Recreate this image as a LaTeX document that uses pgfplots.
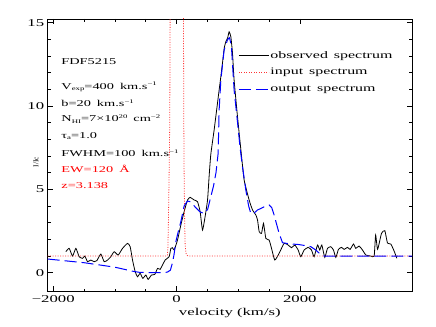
\documentclass[border=0pt]{standalone}
\usepackage{fontspec}
\setmainfont{Liberation Serif}
\newfontfamily\hf{Liberation Serif}[FakeStretch=1.6]
\usepackage{pgfplots}
\pgfplotsset{compat=1.18}

\newcommand{\txt}{\hf\fontsize{9}{10}\selectfont}
\newcommand{\legfont}{\hf\fontsize{10}{11}\selectfont}
\newcommand{\lo}[1]{\raisebox{-1.5bp}{\hf\fontsize{5.5}{6}\selectfont #1}}
\newcommand{\hi}[1]{\raisebox{3.5bp}{\hf\fontsize{5.5}{6}\selectfont #1}}

\begin{document}
\begin{tikzpicture}
\path[use as bounding box] (-47.7bp,-35.3bp) rectangle (388.3bp,291.7bp);
\begin{axis}[
    at={(0,0)}, anchor=south west,
    scale only axis,
    width=364.3bp, height=272.7bp,
    xmin=-2090, xmax=3820,
    ymin=-1.14, ymax=15.22,
    clip mode=individual,
    xtick={-2000,0,2000}, xticklabels={−2000,0,2000},
    ytick={0,5,10,15}, yticklabels={0,5,10,15},
    minor x tick num=3, minor y tick num=4,
    tick align=inside,
    major tick length=5.5bp, minor tick length=3bp,
    every tick/.style={black, line width=0.6bp},
    axis line style={line width=0.8bp},
    tick label style={font=\hf\fontsize{10.5}{11}\selectfont},
    xlabel={velocity (km/s)},
    xlabel style={font=\hf\fontsize{10.5}{11}\selectfont, at={(axis description cs:0.5,0)}, anchor=center, yshift=-21.3bp},
    legend style={draw=none, fill=none, at={(0.523,0.897)}, anchor=north west,
        font=\legfont, row sep=0pt, inner sep=0pt,
        nodes={inner sep=1bp, minimum height=16.7bp}},
    legend cell align=left,
    legend image code/.code={\draw[#1] (0bp,0bp) -- (30bp,0bp);},
]
% observed spectrum
\addplot[black, line width=0.8bp, smooth, tension=0.3] coordinates {
(-1796,1.26) (-1742,1.46) (-1687,1.0) (-1633,1.46) (-1580,0.96) (-1525,0.86)
(-1487,1.0) (-1444,0.66) (-1390,0.76) (-1336,0.66) (-1293,0.72) (-1228,1.12)
(-1174,0.66) (-1119,0.76) (-1066,0.96) (-1012,1.26) (-947,1.06) (-876,1.46)
(-795,1.76) (-752,1.56) (-714,0.76) (-671,0.06) (-633,-0.24) (-590,-0.04)
(-547,-0.34) (-498,-0.14) (-461,-0.40) (-406,-0.14) (-352,-0.10) (-308,0.26)
(-266,0.20) (-227,0.46) (-185,0.76) (-120,0.96) (-92,1.46) (-65,1.5) (-39,1.36)
(16,1.96) (70,2.86) (123,3.66) (178,4.36) (221,4.52) (286,4.36) (340,4.26)
(383,3.66) (421,2.56) (459,3.26) (503,4.36) (529,5.8) (556,7.1) (610,8.56)
(637,9.36) (691,10.96) (719,11.76) (746,12.6) (775,13.5) (800,13.86) (830,14.1)
(853,14.45) (881,14.16) (908,13.16) (934,11.56) (989,9.36) (1043,7.4) (1097,5.56)
(1178,4.36) (1233,3.76) (1287,3.46) (1314,3.16) (1341,2.46) (1379,2.36) (1411,2.96)
(1449,2.06) (1502,1.96) (1541,1.46) (1594,0.76) (1664,1.16) (1745,1.76) (1810,1.66)
(1865,1.5) (1919,1.66) (1973,1.36) (2016,0.96) (2070,1.36) (2135,1.52) (2189,1.36)
(2232,0.96) (2287,1.66) (2324,1.36) (2357,1.66) (2405,0.92) (2449,1.46) (2503,1.56)
(2546,1.36) (2584,0.92) (2627,1.40) (2676,1.52) (2719,1.40) (2773,1.52) (2816,1.40)
(2871,1.72) (2908,1.46) (2962,1.60) (3017,1.36) (3071,1.06) (3152,1.0) (3206,1.0)
(3230,2.26) (3262,1.4) (3325,2.36) (3379,2.52) (3422,1.78) (3476,1.72) (3530,1.3)
(3574,0.86)
};
\addlegendentry{observed\hspace{6bp}spectrum}
% input spectrum
\addplot[red!80, line width=0.8bp, dash pattern=on 1bp off 1.5bp] coordinates {
(-2090,1) (-160,1) (-148,1.05) (-140,1.5) (-132,3) (-120,6) (-110,9) (-104,15)
(-95,30) (0,50) (105,30) (113,15) (118,9) (123,6) (132,3) (140,1.6) (155,1.15)
(175,1.03) (190,1) (3820,1)
};
\addlegendentry{input\hspace{6bp}spectrum}
% output spectrum
\addplot[blue, line width=1bp, dash pattern=on 12bp off 5bp] coordinates {
(-2090,0.82) (-1500,0.6) (-1000,0.33) (-700,0.08) (-600,0.02) (-300,0.0)
(-150,0.03) (-100,0.15) (-65,0.6) (-40,1.1) (-11,1.86) (30,2.5) (70,3.06)
(123,4.0) (178,4.3) (230,4.25) (300,3.95) (380,3.65) (445,3.55) (505,3.8)
(556,4.56) (600,5.2) (640,6.0) (675,7.16) (691,9.76) (719,11.56) (772,13.36)
(830,14.0) (860,14.1) (890,13.6) (934,10.96) (990,9.0) (1032,7.46) (1070,6.36)
(1100,5.6) (1124,4.96) (1170,4.0) (1205,3.56) (1250,3.55) (1314,3.76)
(1420,3.95) (1502,4.06) (1545,3.9) (1583,3.46) (1664,2.36) (1719,1.8)
(1850,1.72) (1963,1.7) (2100,1.62) (2178,1.56) (2259,1.36) (2330,1.12)
(2394,1.0) (3820,1.0)
};
\addlegendentry{output\hspace{6bp}spectrum}

\node[anchor=west, font=\txt] at (axis cs:-1925,12.64) {FDF5215};
\node[anchor=west, font=\txt] at (axis cs:-1925,11.14) {V\lo{exp}=400\hspace{6bp}km.s\hi{−1}};
\node[anchor=west, font=\txt] at (axis cs:-1925,10.18) {b=20\hspace{6bp}km.s\hi{−1}};
\node[anchor=west, font=\txt] at (axis cs:-1925,9.22) {N\lo{HI}=7×10\hi{20}\hspace{6bp}cm\hi{−2}};
\node[anchor=west, font=\txt] at (axis cs:-1925,8.2) {τ\lo{a}=1.0};
\node[anchor=west, font=\txt] at (axis cs:-1925,7.18) {FWHM=100\hspace{6bp}km.s\hi{−1}};
\node[anchor=west, font=\txt, text=red] at (axis cs:-1925,6.22) {EW=120\hspace{6bp}Å};
\node[anchor=west, font=\txt, text=red] at (axis cs:-1925,5.2) {z=3.138};
\node[xshift=-11.7bp, rotate=90, font=\fontsize{7.5}{8}\selectfont] at (rel axis cs:0,0.476) {I/Ic};
\end{axis}
\end{tikzpicture}
\end{document}
